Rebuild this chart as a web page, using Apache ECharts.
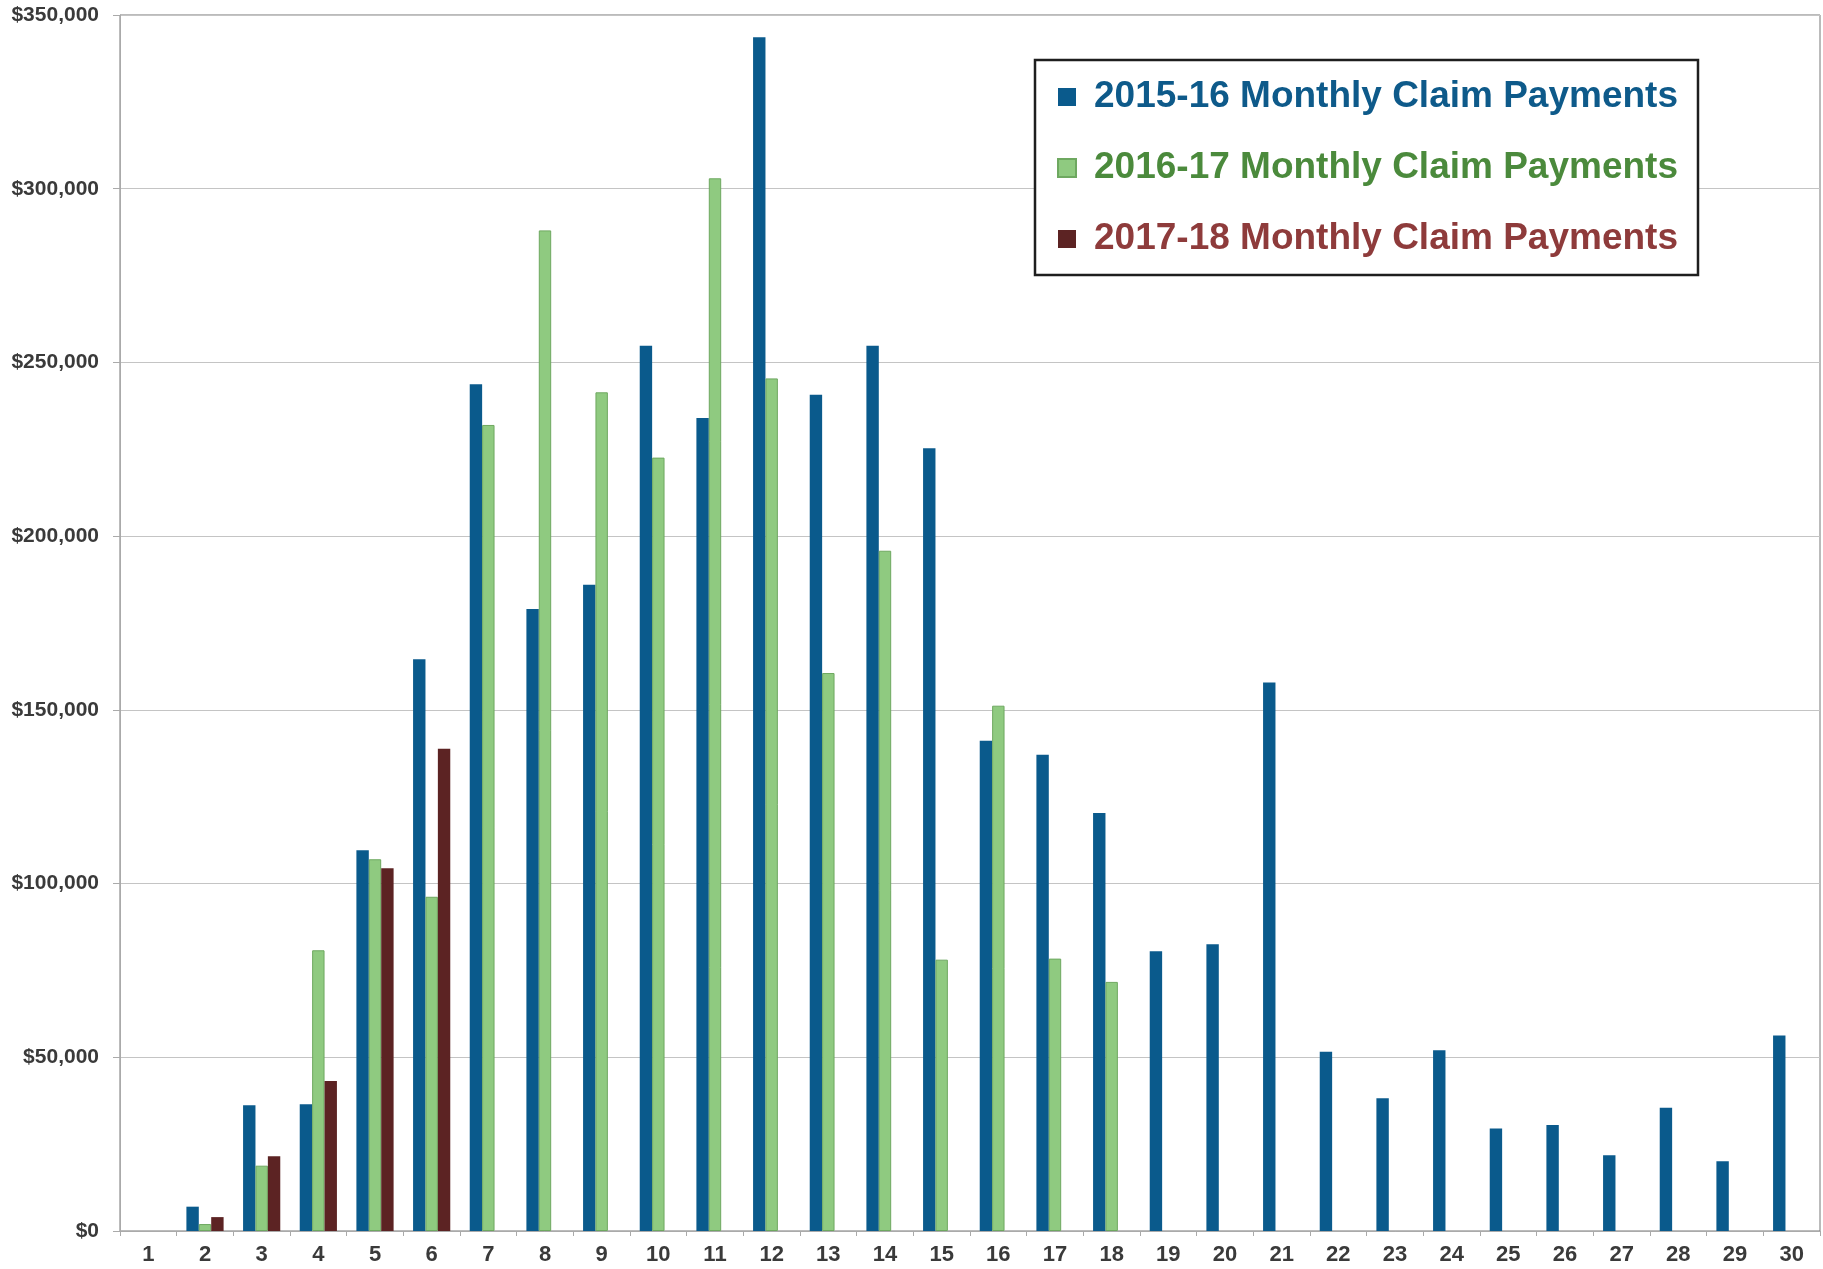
<!DOCTYPE html>
<html>
<head>
<meta charset="utf-8">
<title>Monthly Claim Payments</title>
<script src="https://cdn.jsdelivr.net/npm/echarts@6/dist/echarts.min.js"></script>
<style>
  html, body {
    margin: 0;
    padding: 0;
    background: #fff;
  }
  #chart {
    width: 1823px;
    height: 1269px;
  }
</style>
</head>
<body>
<div id="chart"></div>
<script>
// x categories 1..30
const months = ['1', '2', '3', '4', '5', '6', '7', '8', '9', '10',
  '11', '12', '13', '14', '15', '16', '17', '18', '19', '20',
  '21', '22', '23', '24', '25', '26', '27', '28', '29', '30']

const seriesNames = [
  '2015-16 Monthly Claim Payments',
  '2016-17 Monthly Claim Payments',
  '2017-18 Monthly Claim Payments'
]

// values (dollars)
const pay1516 = [null, 7000, 36200, 36500, 109600, 164600, 243700, 179000, 186000, 254800,
  234000, 343600, 240700, 254800, 225300, 141100, 137100, 120300, 80500, 82500,
  157900, 51600, 38200, 52000, 29500, 30500, 21800, 35500, 20100, 56300]
const pay1617 = [null, 2000, 18800, 80800, 107000, 96200, 232000, 288000, 241400, 222600,
  303000, 245400, 160600, 195800, 78100, 151200, 78400, 71700, null, null,
  null, null, null, null, null, null, null, null, null, null]
const pay1718 = [null, 4000, 21500, 43200, 104400, 138800, null, null, null, null,
  null, null, null, null, null, null, null, null, null, null,
  null, null, null, null, null, null, null, null, null, null]

const yTicks = [0, 50000, 100000, 150000, 200000, 250000, 300000, 350000]

const barColors = ['#0a5a8c', '#8fca80', '#5c2323']
const textColors = ['#0e5a8a', '#4b8a3c', '#8e3b3b']

let chartDom = document.getElementById('chart')
let myChart = echarts.init(chartDom)

let labelStyle = {
  fontFamily: 'Liberation Sans, Arial, sans-serif',
  fontSize: 21,
  fontWeight: 'bold',
  color: '#3a3a3a'
}

let option = {
  animation: false,
  backgroundColor: '#fff',
  grid: {
    left: 120,
    right: 3,
    top: 15,
    bottom: 38,
    show: true,
    borderColor: '#777',
    borderWidth: 1
  },
  legend: {
    orient: 'vertical',
    left: 1035,
    top: 60,
    padding: [17, 20, 16, 22],
    borderColor: '#1e1e1e',
    borderWidth: 2.5,
    backgroundColor: '#fff',
    itemGap: 31,
    itemWidth: 18,
    itemHeight: 18,
    icon: 'rect',
    textStyle: {
      fontFamily: 'Liberation Sans, Arial, sans-serif',
      fontSize: 37,
      fontWeight: 'bold',
      lineHeight: 40,
      padding: [0, 0, 0, 13]
    },
    data: seriesNames.map((n, i) => ({
      name: n,
      textStyle: { color: textColors[i] }
    }))
  },
  xAxis: {
    type: 'category',
    data: months,
    axisLine: { lineStyle: { color: '#aaa', width: 1 } },
    axisTick: { show: true, inside: false, length: 5, lineStyle: { color: '#aaa' } },
    axisLabel: Object.assign({}, labelStyle, { margin: 13, fontSize: 22 }),
    splitLine: { show: false }
  },
  yAxis: {
    type: 'value',
    min: yTicks[0],
    max: yTicks[yTicks.length - 1],
    interval: yTicks[1] - yTicks[0],
    axisLine: { show: true, lineStyle: { color: '#aaa', width: 1 } },
    axisTick: { show: true, inside: false, length: 7, lineStyle: { color: '#aaa' } },
    axisLabel: Object.assign({
      margin: 21,
      formatter: (v) => '$' + v.toLocaleString('en-US')
    }, labelStyle),
    splitLine: { lineStyle: { color: '#c4c4c4', width: 1 } }
  },
  series: [
    {
      name: seriesNames[0],
      type: 'bar',
      data: pay1516,
      barWidth: 12.4,
      barGap: 0,
      itemStyle: { color: barColors[0] }
    },
    {
      name: seriesNames[1],
      type: 'bar',
      data: pay1617,
      barWidth: 12.4,
      barGap: 0,
      itemStyle: { color: barColors[1], borderColor: '#6ea860', borderWidth: 1 }
    },
    {
      name: seriesNames[2],
      type: 'bar',
      data: pay1718,
      barWidth: 12.4,
      barGap: 0,
      itemStyle: { color: barColors[2] }
    }
  ]
}

option && myChart.setOption(option)
</script>
</body>
</html>
